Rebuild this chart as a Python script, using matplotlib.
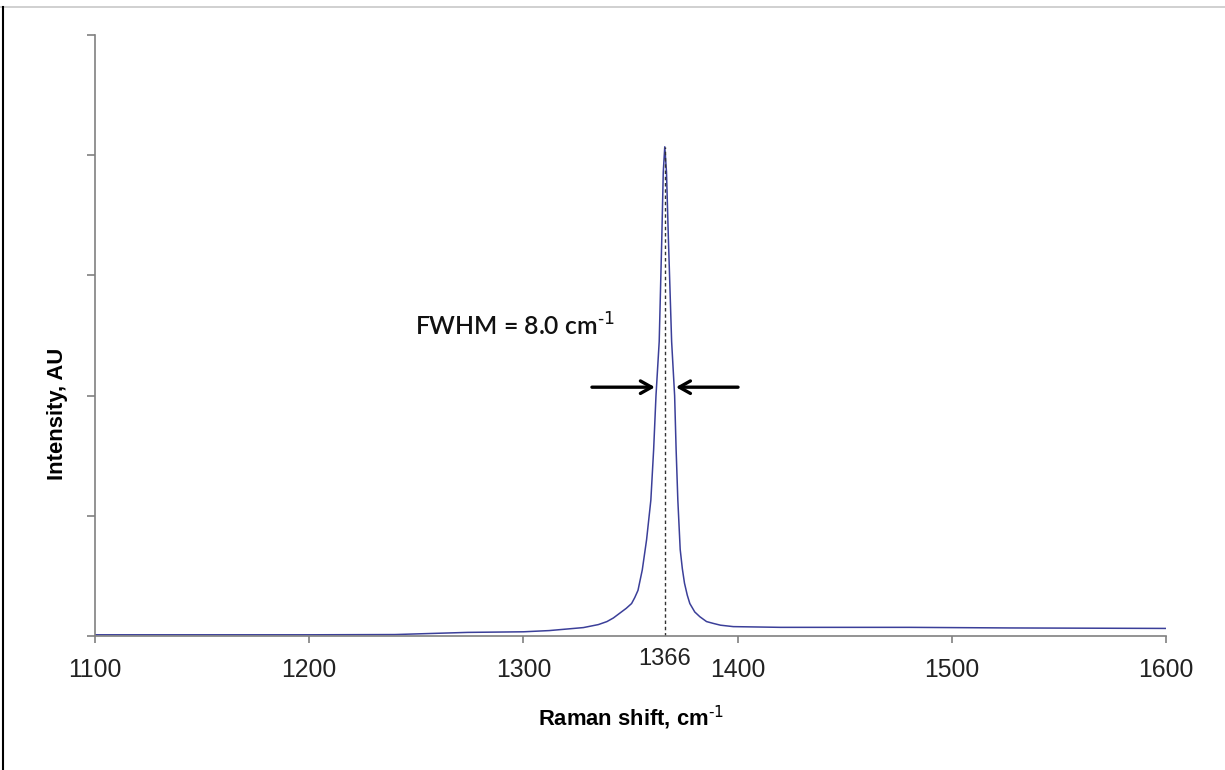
import numpy as np
import matplotlib.pyplot as plt
from matplotlib.lines import Line2D

# spectrum (Raman shift, intensity in tick units)
shift = [1100, 1150, 1200, 1240, 1255, 1274, 1300, 1312, 1328, 1335, 1339,
         1342, 1345, 1348, 1350.5, 1352, 1353.5, 1355.5, 1357.5, 1359.5, 1360.8,
         1361.9, 1363.4, 1364.6, 1365.3, 1366.0, 1366.8, 1367.7, 1369.2, 1370.6,
         1371.3, 1372.1, 1373.2, 1374.2, 1375.2, 1376.5, 1377.7, 1380, 1382.4,
         1385.5, 1388.6, 1392, 1398, 1420, 1480, 1527, 1600]
intensity = [0.01, 0.01, 0.01, 0.012, 0.02, 0.03, 0.035, 0.045, 0.07, 0.095, 0.12,
             0.15, 0.19, 0.23, 0.27, 0.32, 0.38, 0.55, 0.80, 1.13, 1.55,
             2.0, 2.45, 3.3, 3.86, 4.07, 3.86, 3.3, 2.45, 2.0,
             1.55, 1.13, 0.72, 0.56, 0.44, 0.34, 0.27, 0.2, 0.16,
             0.12, 0.105, 0.09, 0.078, 0.072, 0.072, 0.067, 0.063]

peak = 1366
peak_height = 4.07
half = 2.07
fwhm_left = (1332, 1361.4)
fwhm_right = (1400.2, 1371.2)
xticks = [1100, 1200, 1300, 1400, 1500, 1600]

fig = plt.figure(figsize=(12.25, 7.7), dpi=100)
ax = fig.add_axes([95/1225, 1-636/770, (1166-95)/1225, (636-35)/770])

ax.plot(shift, intensity, color='#3b3f99', lw=1.1)
ax.plot([peak, peak], [0, peak_height], color='#333333', lw=1.0, ls=(0, (2.5, 2)))

arrow = dict(arrowstyle='->,head_length=0.8,head_width=0.45', color='black', lw=2.4,
             shrinkA=0, shrinkB=0)
ax.annotate('', xy=(fwhm_left[1], half), xytext=(fwhm_left[0], half), arrowprops=arrow)
ax.annotate('', xy=(fwhm_right[1], half), xytext=(fwhm_right[0], half), arrowprops=arrow)

ax.text(1249.4, 2.58, r'FWHM = 8.0 cm$^{\text{-1}}$', fontsize=17.8, family='Lato',
        weight='semibold', ha='left', va='center', color='#111111')
ax.text(peak, -0.1, '1366', fontsize=17, family='Liberation Sans', ha='center', va='top',
        color='#222222')

ax.set_xlim(1100, 1600)
ax.set_ylim(0, 5)
ax.set_xticks(xticks)
ax.set_yticks(range(6))
ax.set_yticklabels([])
for side in ['top', 'right']:
    ax.spines[side].set_visible(False)
for side in ['left', 'bottom']:
    ax.spines[side].set_color('#808080')
    ax.spines[side].set_linewidth(1.2)
ax.tick_params(axis='x', direction='out', length=5, width=1.2, color='#808080',
               labelsize=17.8, labelcolor='#222222', pad=11)
ax.tick_params(axis='y', direction='out', length=6, width=1.2, color='#808080')
for lab in ax.get_xticklabels():
    lab.set_family('Liberation Sans')

fig.text(631/1225, 1-718/770, r'Raman shift, cm$^{\text{-1}}$', fontsize=15.8,
         family='Liberation Sans', weight='bold', ha='center', va='center')
fig.text(58/1225, 1-414/770, 'Intensity, AU', fontsize=15.8, family='Liberation Sans',
         weight='bold', rotation=90, ha='center', va='center')

# frame remnants of the original screenshot
fig.add_artist(Line2D([0, 1], [1-7/770, 1-7/770], color='#c8c8c8', lw=1.2))
fig.add_artist(Line2D([2.5/1225, 2.5/1225], [0, 1-7/770], color='black', lw=1.5))

fig.savefig('out.png', dpi=100)
